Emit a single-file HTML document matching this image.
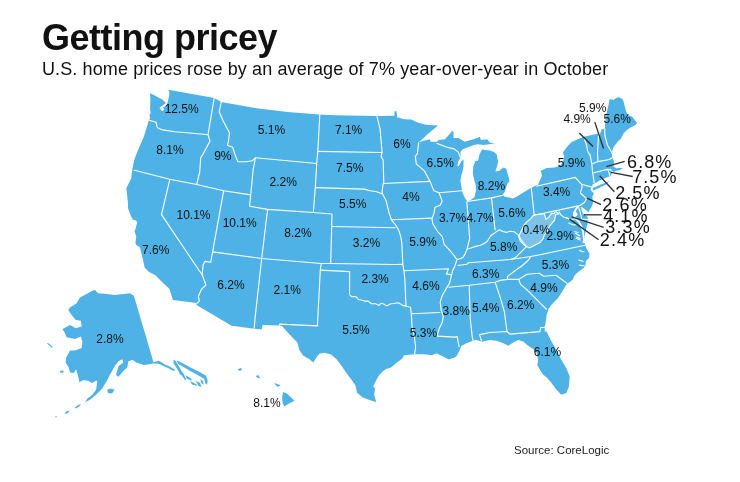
<!DOCTYPE html>
<html><head><meta charset="utf-8"><style>
html,body{margin:0;padding:0;background:#fff;width:740px;height:482px;overflow:hidden}
body *{will-change:transform}
svg{position:absolute;left:0;top:0}
text{font-family:"Liberation Sans",sans-serif;fill:#111}
.big{letter-spacing:1.1px}
.t{position:absolute;left:42px;top:17px;font:bold 36px "Liberation Sans",sans-serif;letter-spacing:-0.5px;color:#111;white-space:nowrap}
.s{position:absolute;left:42px;top:59px;font:18px "Liberation Sans",sans-serif;letter-spacing:0.12px;color:#111;white-space:nowrap}
.src{position:absolute;left:514px;top:444px;font:11.5px "Liberation Sans",sans-serif;color:#222;white-space:nowrap}
</style></head><body>
<div class="t">Getting pricey</div>
<div class="s">U.S. home prices rose by an average of 7% year-over-year in October</div>
<svg width="740" height="482" viewBox="0 0 740 482">
<polygon fill="#4fb2e6" points="150,93.3 154.9,95.4 158.3,97.4 161.6,99.1 164.1,101.2 166,103 162,106 159.5,107.5 160.5,108.8 164,107 167,104.5 168.6,98.3 169.5,93.3 168.4,89.8 214.2,97.9 221.2,102 256.5,108.3 287.7,112 318.8,114.5 335,115.3 376.9,116.1 394.5,115.7 394.5,111 396.6,111.6 397.2,117.2 403.9,119.3 411.2,119.5 417.5,122.6 425.8,124.7 433.7,125.2 438,125.6 427.8,134.1 418.7,142.4 422.5,141.1 430,139.3 430.6,141.8 436.8,141.8 438.7,139.9 444.9,139.3 449.9,133.7 452.3,130.6 453.6,132.4 453.6,138 458.6,138 464.8,141.8 471,139.9 477.2,138 479.7,136.8 481,139.9 487.2,139.3 489.7,142.4 494.7,143.6 483.5,144.9 478.1,144.2 473.9,145.1 468.2,147.2 462.6,149.3 460.5,152 460.5,157.7 458.5,161 457.3,165.5 458.6,166.2 461.2,161.5 463.5,159.2 463.5,166.2 462.5,172 461.4,175 460.4,180.7 461.4,187 462.4,192.2 464.5,197.3 467.1,201.5 470.7,199.9 474.4,197.3 475.9,191.1 475.9,185.9 474.4,180.7 472.8,173.5 473.3,166.2 475.3,161.3 478.1,160.6 479.5,154.2 482.3,149.3 484.7,149.9 490,150.5 494,151.9 496.7,154.6 498.1,162 496.7,167.4 495.4,171.4 499.4,170.8 503.5,167.4 506.2,168.7 508.2,175.5 509.6,180.9 507.5,183.6 506.2,187.6 504.8,191.7 502.8,194.4 504.2,196.4 510.2,197.7 512.9,198.4 517,196.4 523.7,192.3 529.1,189 535.9,185.6 537.9,184.9 542,175.5 540.6,170.8 546.7,168.1 554.8,167.4 560.2,165.4 562.9,162 564.2,156.6 562.9,152.5 566.9,147.1 571,142.4 576.4,139.7 583.6,136.7 598.6,133.6 601,129.8 604.8,128.6 605.4,121.1 606.7,112.4 608.5,104.9 609.8,98.7 611,99.3 613.5,100 616,98.1 618.5,97.2 622.2,98.7 623.5,101.2 626,111.2 627.8,114.9 632.2,116.8 634.7,119.9 637.2,123 634.7,125.5 630.9,127.3 627.2,129.8 623.5,133.6 621,138.5 617.2,142.3 613.5,147.3 612.3,151 612.6,157.5 614.1,162 613.5,166.5 616.5,168.5 619.8,167.8 622.9,168.4 619,170.3 615.7,171 613.6,172 611.5,170 611.5,174.1 610.6,176.1 605.3,177.9 600.1,180.2 594.3,183.7 592.6,184.3 592,186.6 590.5,190 593,192.5 594,194 592.4,196.2 592.9,203 591.3,207.4 589.4,209.9 588.8,212.4 585.7,209.9 582.6,207.4 581.3,206.5 581.5,210 583.2,214.3 586.9,216.2 588.2,218.6 587.6,221.1 587.6,225 587,225.6 585.7,230.9 584.8,236.1 584.4,240.4 582.5,241.8 580.7,241.4 584.9,243.5 585.9,247.6 589.5,253.8 589,258 585.9,261.1 585.4,266.3 583.3,268.3 578.7,271.5 574.5,275.6 572.4,280 570.5,281.5 566.4,284.6 563.3,289.8 558.1,298.1 551.9,304.3 548.7,308.5 546.7,314.7 545.6,323 544.6,327.1 544.8,331.6 546.5,331.6 551.5,341.6 556.4,349.9 561.4,359.9 566.4,368.2 569.7,376.5 568.9,386.4 566.4,393.1 561.4,394.8 556.4,389.8 551.5,383.1 546.5,377.3 543.2,374.8 539.8,369.8 537.3,364.9 538.2,359.9 536.5,352.4 533.2,349.1 528.2,345.7 523.2,341.6 518.2,339.9 513.3,342.4 508.3,345.7 503.3,343.3 496.6,340.8 490,339.9 482,341.8 475.8,339.7 467.5,342.8 461.3,345.9 459.2,351.1 457.1,355.3 455.1,357.3 448.8,359.4 442.6,356.3 436.4,353.2 432.2,355.3 423.9,354.2 414.6,354.2 404.2,355.3 402.2,358.4 397,362.5 390.7,367.7 386.6,368.8 383.5,370.8 379.3,375 376.2,380.2 373.1,386.4 375.2,388.5 374.1,394.7 376.2,402 370.2,400.3 362.7,397.5 357.1,392.8 355.3,385.3 351.5,379.7 345.9,372.3 342.2,366.7 336.6,359.2 331,354.5 324.5,352.7 319.8,353.6 317,356.4 313.3,362.6 309.5,359.2 303,355.5 299.3,349.9 297.4,342.4 293.7,338.7 288.1,333.1 282.5,326.5 279.6,325.5 262.6,325 261.7,329.5 252.3,328.5 231.5,325.7 196.5,304.9 196.5,303 172.8,300.1 171.1,294 169.1,288.5 164.8,284.6 160,280 155.5,275.3 149,272 144.6,267.5 143,259.7 139.9,247.2 136.3,245 135.4,243 136.3,236.4 134.6,231.4 135.4,228.9 137.1,223.1 136.3,220.6 132.9,219.8 130.4,214.8 128,208.2 128,203.2 127.1,194.9 126.3,188.2 128.8,183.3 131.3,178.3 132.1,170 132.5,168 134.3,159.7 137.4,151.4 143.7,136.9 148.9,120.3 150,118.2 149.5,114.9 150.8,112.4 150,109.9 150.4,99.9"/>
<polygon fill="#4fb2e6" points="592.8,188 599.5,184.9 605.9,182.5 609.5,181 606,184.5 599.5,187.8 592.6,190.7"/>
<polyline fill="none" stroke="#fff" stroke-width="1.8" stroke-linejoin="round" points="578.5,205.7 576,209 573.9,213.1 574,216 576.5,219.5 579,222 581.5,226.5 583,231 583.5,236 584,240.5 584.5,243"/>
<circle cx="162.3" cy="109.2" r="1.6" fill="#fff"/>
<circle cx="575.3" cy="214.3" r="2.2" fill="#fff"/>
<polyline fill="none" stroke="#fff" stroke-width="1.2" points="579,250.5 584.5,252"/>
<polyline fill="none" stroke="#fff" stroke-width="1.2" points="578.5,260 583.5,261.5"/>
<polyline fill="none" stroke="#fff" stroke-width="1.2" points="579,265.2 585,266"/>
<polyline fill="none" stroke="#fff" stroke-width="1.2" points="575,233 580,236"/>
<polyline fill="none" stroke="#fff" stroke-width="1.2" points="576,238 580.5,240.2"/>
<polyline fill="none" stroke="#fff" stroke-width="1.2" points="566,217.5 571,219.5 575,219"/>
<polyline fill="none" stroke="#fff" stroke-width="1.2" points="568.5,223 573.5,225 577,224.5"/>
<polyline fill="none" stroke="#fff" stroke-width="1.2" points="574.3,231.5 578.5,232.5"/>
<polyline fill="none" stroke="#fff" stroke-width="1.2" points="576,237 580.5,238.5"/>
<polygon fill="#7bc3ea" stroke="#fff" stroke-width="1.1" points="534.5,214.8 544.2,213.7 545.9,219.4 548.8,217.1 551.6,213.1 553.9,213.7 555.1,212 556.8,212 559,213.7 555.6,214.8 554.5,220.5 551.1,224 548.8,227.4 547.6,230.8 544.2,235.4 543.1,238.8 539.7,242.8 536.2,244.5 532.8,246.2 529.4,247.9 527.1,246.8 523.7,244.5 520.3,241.1 518.6,236.5 520.3,233.1 522.5,228.5 524.3,224.5 527.1,221.7 531.1,218.3 532.8,216"/>
<polyline fill="none" stroke="#fff" stroke-width="1.1" stroke-linejoin="round" points="148.9,120.3 156.1,122.3 157.2,127.5 161.3,129.6 174.8,131.7 187.2,132.7 208,134.8"/>
<polyline fill="none" stroke="#fff" stroke-width="1.1" stroke-linejoin="round" points="214.2,97.9 208,134.8 210,141 202.8,154.5 200.7,157.6 199.7,172 196.7,184.5"/>
<polyline fill="none" stroke="#fff" stroke-width="1.1" stroke-linejoin="round" points="133.5,170 169.8,179.3 196.7,184.5 223.7,190.7 250.7,194.9"/>
<polyline fill="none" stroke="#fff" stroke-width="1.1" stroke-linejoin="round" points="169.8,179.3 161.5,214.6 198.8,270 202.2,274.6"/>
<polyline fill="none" stroke="#fff" stroke-width="1.1" stroke-linejoin="round" points="223.7,190.7 212.6,251.9"/>
<polyline fill="none" stroke="#fff" stroke-width="1.1" stroke-linejoin="round" points="212.6,251.9 210.7,262.3 205,261.4 203.1,265.1 202.2,274.6"/>
<polyline fill="none" stroke="#fff" stroke-width="1.1" stroke-linejoin="round" points="202.2,274.6 205.9,285 201.2,289.7 198.4,296.3 199.3,301.1 196.5,303.9"/>
<polyline fill="none" stroke="#fff" stroke-width="1.1" stroke-linejoin="round" points="212.6,251.9 261.7,258.5 321.2,263.5 330.7,263.5 395,264.5 402.8,264.4"/>
<polyline fill="none" stroke="#fff" stroke-width="1.1" stroke-linejoin="round" points="261.7,258.5 255,318.4 254.2,328.5"/>
<polyline fill="none" stroke="#fff" stroke-width="1.1" stroke-linejoin="round" points="221.2,102 219.2,112 223.3,121.3 229.5,132.7 228.5,141 227.5,145.2 232.6,147.3 235.8,156.6 237.8,161.8 246.1,161.8 252.4,160.8 255.5,157.7"/>
<polyline fill="none" stroke="#fff" stroke-width="1.1" stroke-linejoin="round" points="255.5,157.7 253.1,170 250.7,194.9 249.6,206.3"/>
<polyline fill="none" stroke="#fff" stroke-width="1.1" stroke-linejoin="round" points="249.6,206.3 267.6,209.4 313.3,212.5 332,214"/>
<polyline fill="none" stroke="#fff" stroke-width="1.1" stroke-linejoin="round" points="267.6,209.4 261.7,258.5"/>
<polyline fill="none" stroke="#fff" stroke-width="1.1" stroke-linejoin="round" points="255.5,157.7 316.7,163.5"/>
<polyline fill="none" stroke="#fff" stroke-width="1.1" stroke-linejoin="round" points="319.8,114.5 317.8,151.4 316.7,163.5"/>
<polyline fill="none" stroke="#fff" stroke-width="1.1" stroke-linejoin="round" points="316.7,163.5 315.3,187.6 313.3,212.5"/>
<polyline fill="none" stroke="#fff" stroke-width="1.1" stroke-linejoin="round" points="317.8,151.4 382.1,152.5"/>
<polyline fill="none" stroke="#fff" stroke-width="1.1" stroke-linejoin="round" points="315.3,187.6 364.1,189.1 370.3,190.7 376.5,191.8 382.8,193.9"/>
<polyline fill="none" stroke="#fff" stroke-width="1.1" stroke-linejoin="round" points="376.9,116.1 380,128.6 382.1,152.5 381,156.6 383.1,159.7 383.8,183.5"/>
<polyline fill="none" stroke="#fff" stroke-width="1.1" stroke-linejoin="round" points="383.1,183.5 429.8,181.4"/>
<polyline fill="none" stroke="#fff" stroke-width="1.1" stroke-linejoin="round" points="383.1,183.5 382,192.8 386.2,201.1 389.3,213.6 391.4,219.8"/>
<polyline fill="none" stroke="#fff" stroke-width="1.1" stroke-linejoin="round" points="332,214 330.7,263.5"/>
<polyline fill="none" stroke="#fff" stroke-width="1.1" stroke-linejoin="round" points="331.6,226.5 395.6,227.7"/>
<polyline fill="none" stroke="#fff" stroke-width="1.1" stroke-linejoin="round" points="391.4,219.8 395.6,225 398.7,230.2 400.7,236.4 401.8,242.6 402.8,264.4 403.9,270.7 404.9,280 406,306"/>
<polyline fill="none" stroke="#fff" stroke-width="1.1" stroke-linejoin="round" points="391.4,219.8 431.9,218.1"/>
<polyline fill="none" stroke="#fff" stroke-width="1.1" stroke-linejoin="round" points="418.7,142.4 417.4,153.5 415.3,156.6 416.3,163.9 424.6,171.2 429.8,180.9"/>
<polyline fill="none" stroke="#fff" stroke-width="1.1" stroke-linejoin="round" points="429.8,180.9 433.9,190.7 439.1,192.8 442.2,201.1 440.2,205.3 435,207.3 433.9,213.6 431.9,218.7 432.9,223.9 438.1,232.2 442.2,236.4 444.3,244.7 448.5,248.8 453.6,255 456.7,259.2"/>
<polyline fill="none" stroke="#fff" stroke-width="1.1" stroke-linejoin="round" points="439.1,192.8 461.9,190.7"/>
<polyline fill="none" stroke="#fff" stroke-width="1.1" stroke-linejoin="round" points="466.8,201.5 469.7,238.5 467,249.3"/>
<polyline fill="none" stroke="#fff" stroke-width="1.1" stroke-linejoin="round" points="467.1,201.5 491.5,197.9 502.9,195.3"/>
<polyline fill="none" stroke="#fff" stroke-width="1.1" stroke-linejoin="round" points="491.5,197.9 495.1,230.2"/>
<polyline fill="none" stroke="#fff" stroke-width="1.1" stroke-linejoin="round" points="456.9,259.5 460,258.8 463,257.4 465,254.1 467,249.3 471,248 475.1,246.6 480.5,245.3 484,243.5 487.3,241.2 490.7,235.8 495.4,232.4 499.5,229.7 503,231.5 506.2,232.4 510,231.2 514.3,231.8 518.4,235.1 521.1,239.9 524,243.5 526.5,246.6"/>
<polyline fill="none" stroke="#fff" stroke-width="1.1" stroke-linejoin="round" points="436.5,143.2 447.1,147.2 454.1,148.9 458.3,152.1 459.7,155.6 460.5,157.7"/>
<polyline fill="none" stroke="#fff" stroke-width="1.1" stroke-linejoin="round" points="457.6,265.5 467,264.2 468.4,262.8 510.3,259.5 529.2,256.8 540,254.7 585,245.2"/>
<polyline fill="none" stroke="#fff" stroke-width="1.1" stroke-linejoin="round" points="526.5,246.6 515.7,257.4 510.3,259.5"/>
<polyline fill="none" stroke="#fff" stroke-width="1.1" stroke-linejoin="round" points="530.5,257.2 528,260.5 522.4,265.5 516,270 507.6,276.4 507.6,279.1"/>
<polyline fill="none" stroke="#fff" stroke-width="1.1" stroke-linejoin="round" points="448.5,287.3 469.2,285.3 495.1,282.2 500,280.4 507.3,279.4"/>
<polyline fill="none" stroke="#fff" stroke-width="1.1" stroke-linejoin="round" points="507.3,279.4 518.7,279.4 527,274.2 539.4,273.2 543.6,276.3 556,275.3 567.4,283.6"/>
<polyline fill="none" stroke="#fff" stroke-width="1.1" stroke-linejoin="round" points="518.7,279.4 520.7,284.6 527,289.8 535.3,298.1 541.5,304.3 546.7,309.5"/>
<polyline fill="none" stroke="#fff" stroke-width="1.1" stroke-linejoin="round" points="495.1,282.2 500.3,297.7 504.5,312.2 505.5,320.5 507,331.5"/>
<polyline fill="none" stroke="#fff" stroke-width="1.1" stroke-linejoin="round" points="481.6,341.3 479.6,334.6 490,332.5 507,331.5 509.9,334.1 539.8,331.6 540.7,327.5 544.8,327.5"/>
<polyline fill="none" stroke="#fff" stroke-width="1.1" stroke-linejoin="round" points="469.2,285.3 470.2,318.5 472.3,337.1 473.3,341.3"/>
<polyline fill="none" stroke="#fff" stroke-width="1.1" stroke-linejoin="round" points="437,336.1 454.7,337.1 457.1,336.6 459.2,347"/>
<polyline fill="none" stroke="#fff" stroke-width="1.1" stroke-linejoin="round" points="411.3,313.8 440.2,312.5"/>
<polyline fill="none" stroke="#fff" stroke-width="1.1" stroke-linejoin="round" points="410.5,307.2 411.3,313.8 412.2,328.8 414.2,335 415.6,347 414.6,354.2"/>
<polyline fill="none" stroke="#fff" stroke-width="1.1" stroke-linejoin="round" points="456.7,259.2 456.7,260.4 454.7,266.6 452.6,270.7 451.6,274.9 449.5,283.2 446.4,288.4 442.2,295.6 440.2,301.9 441.2,310.2 443.3,316.4 442.2,322.6 439.1,328.8 437,336.1"/>
<polyline fill="none" stroke="#fff" stroke-width="1.1" stroke-linejoin="round" points="403.9,270.7 448.5,268.7 446.4,273.9 451.6,274.9"/>
<polyline fill="none" stroke="#fff" stroke-width="1.1" stroke-linejoin="round" points="349.7,295.1 351.9,296.8 354,296.5 356.2,296.8 358.4,299.5 361,300 364.9,301.1 368.1,301.1 371.4,303.8 375.7,303.8 378.9,305.4 381.1,303.2 384.3,304.3 386.5,305.9 390.8,303.8 394,303.5 398.4,302.7 402.7,305.4 406,306.2 410.5,307.2"/>
<polyline fill="none" stroke="#fff" stroke-width="1.1" stroke-linejoin="round" points="320.3,270.1 349.6,271.6 349.6,294.7"/>
<polyline fill="none" stroke="#fff" stroke-width="1.1" stroke-linejoin="round" points="321.2,263.5 320.3,270.1 317.4,325.9 279.6,324.1 279.6,325.5"/>
<polyline fill="none" stroke="#fff" stroke-width="1.1" stroke-linejoin="round" points="531.1,186.2 534.2,215.3"/>
<polyline fill="none" stroke="#fff" stroke-width="1.1" stroke-linejoin="round" points="534.2,215.3 578.3,205.9"/>
<polyline fill="none" stroke="#fff" stroke-width="1.1" stroke-linejoin="round" points="536.3,186.2 575.3,177.4 579.8,182.5 581.5,184.2"/>
<polyline fill="none" stroke="#fff" stroke-width="1.1" stroke-linejoin="round" points="581.5,184.2 582.1,187.1 580.4,192.8 582.1,194.5 586.6,198.7 584.4,202.5 580.7,205 578.2,206.5"/>
<polyline fill="none" stroke="#fff" stroke-width="1.1" stroke-linejoin="round" points="581.5,184.2 591.8,187.1"/>
<polyline fill="none" stroke="#fff" stroke-width="1.1" stroke-linejoin="round" points="584.3,139.2 586.1,143.5 586.6,145 587.6,151.2 590.2,155.4 591.8,163.7 592.6,172.7 593.5,178 594.3,183.7"/>
<polyline fill="none" stroke="#fff" stroke-width="1.1" stroke-linejoin="round" points="601,129.8 598.5,136 598,145 597.5,153.3 598,161.6"/>
<polyline fill="none" stroke="#fff" stroke-width="1.1" stroke-linejoin="round" points="604.8,128.6 604.8,135 607.4,145 610.5,150.2 612.6,154.3 612.6,157.5"/>
<polyline fill="none" stroke="#fff" stroke-width="1.1" stroke-linejoin="round" points="592.3,163.7 598,161.6 609.4,159.5 612.6,157.5"/>
<polyline fill="none" stroke="#fff" stroke-width="1.1" stroke-linejoin="round" points="592.8,173 607.4,169.4 611.5,169.9"/>
<polyline fill="none" stroke="#fff" stroke-width="1.1" stroke-linejoin="round" points="607.9,169.4 610,176.1"/>
<polyline fill="none" stroke="#fff" stroke-width="1.1" stroke-linejoin="round" points="559,211.4 560.8,214.8 563.6,217.1 567,218.3 570,219.4 572,220"/>
<polyline fill="none" stroke="#fff" stroke-width="1.1" stroke-linejoin="round" points="578.3,206.5 580,211.7 581.8,219.1 588.3,219.5"/>
<polygon fill="#4fb2e6" points="92.4,290.8 94.9,290 98.2,293.3 106.5,294.1 114.8,295 123.1,294.1 129.8,293.3 133.9,295.8 153.5,362.2 158.7,360.8 161,362 164.5,364.3 169.1,366.2 173.6,368.8 175,370 173.8,371 168.5,368.2 163.5,366 158.5,363.8 153.5,363.5 143.8,365.1 136.9,362.8 133.4,360.5 132.1,360 128.4,361.2 127.2,367.4 123.4,371.1 118.5,376.7 116,374.9 118.5,366.2 123.4,362.4 122.2,359.3 118.5,361.2 114.7,366.2 109.8,374.9 107.3,379.9 102.3,388.6 96.1,394.8 89.9,399.8 84.9,402.2 83.6,404.1 84.5,403 87.4,398.5 92.3,394.8 96.1,389.8 97.3,381.1 96.1,380.5 92.3,383 88.6,381.1 83.6,379.9 79.3,382.3 78.7,378.6 76.2,369.3 73.7,373 70,372.4 68.7,367.4 65.6,362.4 66.2,357.5 70,350.6 75,350.6 81.6,348.1 82.4,341.5 80.8,336.5 75,339 66.6,337.3 65,333.2 62.5,329 70,324.9 75.8,328.2 81.6,326.5 80.8,320.7 75.8,319.9 71.6,314.9 68.3,309.9 70,307.4 76.6,303.3 79.9,297.5 86.6,294.1"/>
<polygon fill="#4fb2e6" points="176.5,360.5 179,361.3 190,367.3 200,372.3 206,375.8 207.6,380 207.2,384.5 205.2,383.2 204.2,378.7 198,375.2 189,370.2 178.3,364"/>
<polygon fill="#4fb2e6" points="173.6,359.7 175.5,360.8 180,368.3 186.3,379.3 185,380 178,370.3 173.4,363"/>
<polygon fill="#4fb2e6" points="178.5,370.5 183.5,373.5 184.5,376 180,374.5"/>
<polygon fill="#4fb2e6" points="185.5,375 191,378.5 192,380.5 187,379"/>
<polygon fill="#4fb2e6" points="190,381 196,384 197.5,386 192,384.5"/>
<polygon fill="#4fb2e6" points="195.5,380.5 200,383 201.5,386.8 198.5,386"/>
<polygon fill="#4fb2e6" points="200.5,379.5 203,381 203.5,384.5 201,383"/>
<polygon fill="#4fb2e6" points="74.9,407.5 78,405 81.1,404.1 79,406.5 76,408.5"/>
<polygon fill="#4fb2e6" points="66,411.5 69.5,410.5 68,413 64.5,414"/>
<polygon fill="#4fb2e6" points="55,416.5 57,416 56,418"/>
<polygon fill="#4fb2e6" points="107.3,390 110,388.6 114.7,389.5 112,393.5 108,393"/>
<polygon fill="#4fb2e6" points="46.6,343 49,343.5 53.3,347.5 51.5,347.5"/>
<polygon fill="#4fb2e6" points="60,370.7 63.3,370.5 63.7,372.5 60.5,373"/>
<polygon fill="#4fb2e6" points="282.1,397.2 283.2,392.1 287.2,393.8 294.6,400.7 288.9,403.5 284.4,406.4 282.6,403"/>
<polygon fill="#4fb2e6" points="274.1,383 277.5,384.1 280.9,385.6 277.5,386.7 275.8,385.2"/>
<polygon fill="#4fb2e6" points="255.8,376.1 258.1,375 260.4,378.4 257.5,377.8"/>
<polygon fill="#4fb2e6" points="237.6,369.3 241,368.1 242.1,369.8 239.8,371"/>
<polyline fill="none" stroke="#333" stroke-width="1.35" points="594.8,122.1 603.5,148.5"/>
<polyline fill="none" stroke="#333" stroke-width="1.35" points="579.3,132.9 593,146.6"/>
<polyline fill="none" stroke="#333" stroke-width="1.35" points="624.7,161.4 606.4,166.7"/>
<polyline fill="none" stroke="#333" stroke-width="1.35" points="632.7,176.5 611,172.4"/>
<polyline fill="none" stroke="#333" stroke-width="1.35" points="614.4,191.8 599.6,175.8"/>
<polyline fill="none" stroke="#333" stroke-width="1.35" points="601.1,204.7 586.8,198.1"/>
<polyline fill="none" stroke="#333" stroke-width="1.35" points="601.7,214.8 583.7,214.8"/>
<polyline fill="none" stroke="#333" stroke-width="1.35" points="603.6,227.3 571.8,216.8"/>
<polyline fill="none" stroke="#333" stroke-width="1.35" points="598.6,239.8 569.3,218.9"/>
<text x="181.7" y="113.1" font-size="12" text-anchor="middle">12.5%</text>
<text x="170" y="154.0" font-size="12" text-anchor="middle">8.1%</text>
<text x="222.8" y="160.4" font-size="12" text-anchor="middle">9%</text>
<text x="271.4" y="133.7" font-size="12" text-anchor="middle">5.1%</text>
<text x="348.6" y="134.4" font-size="12" text-anchor="middle">7.1%</text>
<text x="402" y="148.1" font-size="12" text-anchor="middle">6%</text>
<text x="349.8" y="171.5" font-size="12" text-anchor="middle">7.5%</text>
<text x="283.3" y="186.4" font-size="12" text-anchor="middle">2.2%</text>
<text x="352.8" y="208.0" font-size="12" text-anchor="middle">5.5%</text>
<text x="193.5" y="218.8" font-size="12" text-anchor="middle">10.1%</text>
<text x="239.7" y="227.3" font-size="12" text-anchor="middle">10.1%</text>
<text x="298" y="237.4" font-size="12" text-anchor="middle">8.2%</text>
<text x="155.8" y="254.0" font-size="12" text-anchor="middle">7.6%</text>
<text x="366.4" y="246.5" font-size="12" text-anchor="middle">3.2%</text>
<text x="440.3" y="166.7" font-size="12" text-anchor="middle">6.5%</text>
<text x="411" y="200.5" font-size="12" text-anchor="middle">4%</text>
<text x="491.5" y="190.3" font-size="12" text-anchor="middle">8.2%</text>
<text x="452.6" y="222.4" font-size="12" text-anchor="middle">3.7%</text>
<text x="480.1" y="222.4" font-size="12" text-anchor="middle">4.7%</text>
<text x="512" y="216.7" font-size="12" text-anchor="middle">5.6%</text>
<text x="556.6" y="196.4" font-size="12" text-anchor="middle">3.4%</text>
<text x="571.4" y="166.7" font-size="12" text-anchor="middle">5.9%</text>
<text x="423" y="246.1" font-size="12" text-anchor="middle">5.9%</text>
<text x="503.8" y="250.5" font-size="12" text-anchor="middle">5.8%</text>
<text x="536.3" y="234.2" font-size="12" text-anchor="middle">0.4%</text>
<text x="560.3" y="240.3" font-size="12" text-anchor="middle">2.9%</text>
<text x="230.9" y="289.3" font-size="12" text-anchor="middle">6.2%</text>
<text x="287.3" y="294.4" font-size="12" text-anchor="middle">2.1%</text>
<text x="375.1" y="283.2" font-size="12" text-anchor="middle">2.3%</text>
<text x="426" y="289.5" font-size="12" text-anchor="middle">4.6%</text>
<text x="485.8" y="277.9" font-size="12" text-anchor="middle">6.3%</text>
<text x="555.4" y="268.8" font-size="12" text-anchor="middle">5.3%</text>
<text x="544" y="292.3" font-size="12" text-anchor="middle">4.9%</text>
<text x="456.2" y="315.2" font-size="12" text-anchor="middle">3.8%</text>
<text x="485.8" y="311.9" font-size="12" text-anchor="middle">5.4%</text>
<text x="520.8" y="308.5" font-size="12" text-anchor="middle">6.2%</text>
<text x="355.9" y="333.9" font-size="12" text-anchor="middle">5.5%</text>
<text x="423.4" y="337.3" font-size="12" text-anchor="middle">5.3%</text>
<text x="547.5" y="355.8" font-size="12" text-anchor="middle">6.1%</text>
<text x="109.9" y="342.6" font-size="12" text-anchor="middle">2.8%</text>
<text x="267" y="407.2" font-size="12" text-anchor="middle">8.1%</text>
<text x="592.7" y="111.9" font-size="12" text-anchor="middle">5.9%</text>
<text x="577.1" y="123.4" font-size="12" text-anchor="middle">4.9%</text>
<text x="617.2" y="122.5" font-size="12" text-anchor="middle">5.6%</text>
<text x="649.75" y="167.8" font-size="18" text-anchor="middle" class="big">6.8%</text>
<text x="654.85" y="182.7" font-size="18" text-anchor="middle" class="big">7.5%</text>
<text x="637.85" y="198.7" font-size="18" text-anchor="middle" class="big">2.5%</text>
<text x="625.05" y="211.2" font-size="18" text-anchor="middle" class="big">2.6%</text>
<text x="625.85" y="221.5" font-size="18" text-anchor="middle" class="big">4.1%</text>
<text x="628.05" y="233" font-size="18" text-anchor="middle" class="big">3.3%</text>
<text x="622.55" y="245.5" font-size="18" text-anchor="middle" class="big">2.4%</text>
</svg>
<div class="src">Source: CoreLogic</div>
</body></html>
